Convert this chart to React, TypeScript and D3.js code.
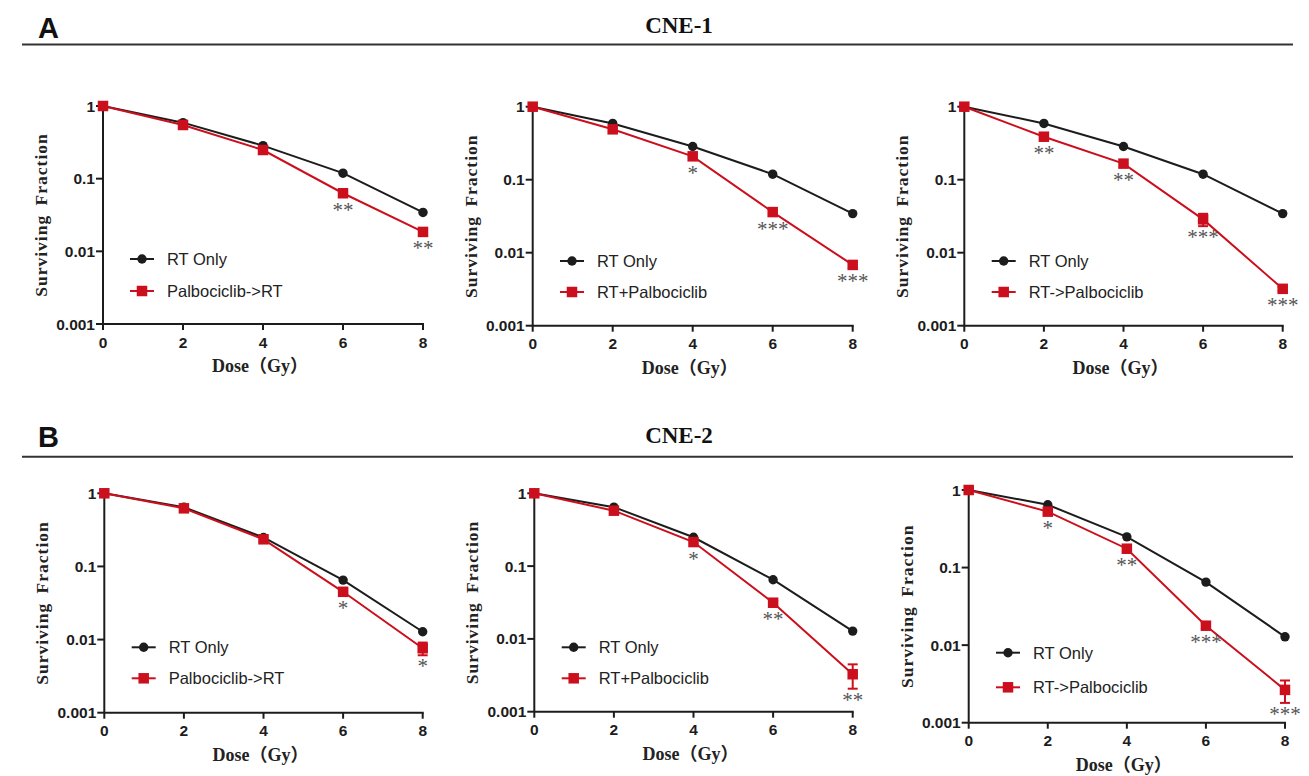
import React from "react";
import * as d3 from "d3";

// ---------------- DATA ----------------
const doses = [0, 2, 4, 6, 8];
const yTicks = [1, 0.1, 0.01, 0.001];
const yTickLabels = ["1", "0.1", "0.01", "0.001"];

const rtOnlyCNE1 = [1, 0.59, 0.285, 0.119, 0.0343];
const rtOnlyCNE2 = [1, 0.645, 0.249, 0.065, 0.0128];

const palboThenRtCNE1 = [1, 0.548, 0.248, 0.063, 0.0185];
const rtPlusPalboCNE1 = [1, 0.49, 0.209, 0.036, 0.0068];
const rtThenPalboCNE1 = [1, 0.388, 0.166, 0.0286, 0.0032];
const palboThenRtCNE2 = [1, 0.623, 0.235, 0.045, 0.0076];
const rtPlusPalboCNE2 = [1, 0.577, 0.214, 0.0314, 0.00327];
const rtThenPalboCNE2 = [1, 0.526, 0.175, 0.0178, 0.00265];

const errZero = [0, 0, 0, 0, 0];
const errRtThenPalboCNE1 = [0, 0, 0, 0.0055, 0.0002];
const errPalboThenRtCNE2 = [0, 0, 0, 0.002, 0.0015];
const errRtPlusPalboCNE2 = [0, 0, 0, 0.002, 0.0012];
const errRtThenPalboCNE2 = [0, 0, 0, 0.0015, 0.00085];

const starsA1 = ["", "", "", "**", "**"];
const starsA2 = ["", "", "*", "***", "***"];
const starsA3 = ["", "**", "**", "***", "***"];
const starsB1 = ["", "", "", "*", "*"];
const starsB2 = ["", "", "*", "**", "**"];
const starsB3 = ["", "*", "**", "***", "***"];

const controlLabel = "RT Only";
const treatLabels = ["Palbociclib->RT", "RT+Palbociclib", "RT->Palbociclib"];
const cellLines = ["CNE-1", "CNE-2"];
const sectionLetters = ["A", "B"];

// ---------------- LAYOUT ----------------
const RED = "#cc0f1c";
const BLACK = "#1c1c1c";

type Panel = {
  left: number; right: number; top: number; bottom: number;
  legX: number; legY: number; legGap: number;
  control: number[]; treat: number[]; err: number[]; stars: string[]; label: string;
};

const panels: Panel[] = [
  { left: 103, right: 423, top: 106, bottom: 324, legX: 130, legY: 259, legGap: 32,
    control: rtOnlyCNE1, treat: palboThenRtCNE1, err: errZero, stars: starsA1, label: treatLabels[0] },
  { left: 532.7, right: 852.7, top: 106.7, bottom: 325.7, legX: 560, legY: 261, legGap: 31,
    control: rtOnlyCNE1, treat: rtPlusPalboCNE1, err: errZero, stars: starsA2, label: treatLabels[1] },
  { left: 964.3, right: 1282.7, top: 106.7, bottom: 325.7, legX: 991.7, legY: 261, legGap: 31,
    control: rtOnlyCNE1, treat: rtThenPalboCNE1, err: errRtThenPalboCNE1, stars: starsA3, label: treatLabels[2] },
  { left: 104.3, right: 422.7, top: 493.3, bottom: 712.7, legX: 131.7, legY: 647.3, legGap: 31,
    control: rtOnlyCNE2, treat: palboThenRtCNE2, err: errPalboThenRtCNE2, stars: starsB1, label: treatLabels[0] },
  { left: 534.3, right: 852.7, top: 493.3, bottom: 711.7, legX: 561.7, legY: 647.3, legGap: 31,
    control: rtOnlyCNE2, treat: rtPlusPalboCNE2, err: errRtPlusPalboCNE2, stars: starsB2, label: treatLabels[1] },
  { left: 968.7, right: 1285, top: 490, bottom: 722.7, legX: 996, legY: 652.7, legGap: 34.6,
    control: rtOnlyCNE2, treat: rtThenPalboCNE2, err: errRtThenPalboCNE2, stars: starsB3, label: treatLabels[2] },
];

const sansFont = "'Liberation Sans', Arial, sans-serif";
const serifFont = "'Liberation Serif', 'Noto Sans CJK SC', serif";

function PanelChart({ p }: { p: Panel }) {
  const x = d3.scaleLinear().domain([0, 8]).range([p.left, p.right]);
  const y = d3.scaleLog().domain([0.001, 1]).range([p.bottom, p.top]);
  const line = d3.line<number>().x((_, i) => x(doses[i])).y((v) => y(v));
  const sq = 10.5;
  const r = 4.7;
  const midX = (p.left + p.right) / 2;
  const midY = (p.top + p.bottom) / 2;
  return (
    <g>
      {/* axes */}
      <line x1={p.left} x2={p.left} y1={p.top - 1} y2={p.bottom} stroke={BLACK} strokeWidth={2} />
      <line x1={p.left} x2={p.right + 1} y1={p.bottom} y2={p.bottom} stroke={BLACK} strokeWidth={2} />
      {yTicks.map((t, i) => (
        <g key={"y" + i}>
          <line x1={p.left - 7} x2={p.left} y1={y(t)} y2={y(t)} stroke={BLACK} strokeWidth={2} />
          <text x={p.left - 8} y={y(t)} dy="0.36em" textAnchor="end" fontFamily={sansFont}
            fontWeight="bold" fontSize={15.5} fill={BLACK}>{yTickLabels[i]}</text>
        </g>
      ))}
      {doses.map((d, i) => (
        <g key={"x" + i}>
          <line x1={x(d)} x2={x(d)} y1={p.bottom} y2={p.bottom + 6} stroke={BLACK} strokeWidth={2} />
          <text x={x(d)} y={p.bottom + 23.5} textAnchor="middle" fontFamily={sansFont}
            fontWeight="bold" fontSize={15.5} fill={BLACK}>{d}</text>
        </g>
      ))}
      {/* axis titles */}
      <text transform={`translate(${p.left - 56},${midY}) rotate(-90)`} textAnchor="middle"
        fontFamily={serifFont} fontWeight="bold" fontSize={17.5} letterSpacing={1} wordSpacing={4}
        fill="#222">Surviving Fraction</text>
      <text x={midX - 3} y={p.bottom + 48} textAnchor="middle" fontFamily={serifFont}
        fontWeight="bold" fontSize={18} fill="#222">Dose（Gy）</text>
      {/* control series */}
      <path d={line(p.control) || ""} fill="none" stroke={BLACK} strokeWidth={2} />
      {p.control.map((v, i) => (
        <circle key={"c" + i} cx={x(doses[i])} cy={y(v)} r={r} fill={BLACK} />
      ))}
      {/* treatment series */}
      <path d={line(p.treat) || ""} fill="none" stroke={RED} strokeWidth={2} />
      {p.treat.map((v, i) => {
        const e = p.err[i];
        if (!e) return null;
        const cx = x(doses[i]);
        const y1 = y(v + e);
        const y2 = y(v - e);
        return (
          <g key={"e" + i} stroke={RED} strokeWidth={2}>
            <line x1={cx} x2={cx} y1={y1} y2={y2} />
            <line x1={cx - 5} x2={cx + 5} y1={y1} y2={y1} />
            <line x1={cx - 5} x2={cx + 5} y1={y2} y2={y2} />
          </g>
        );
      })}
      {p.treat.map((v, i) => (
        <rect key={"s" + i} x={x(doses[i]) - sq / 2} y={y(v) - sq / 2} width={sq} height={sq} fill={RED} />
      ))}
      {/* significance */}
      {p.stars.map((s, i) => {
        if (!s) return null;
        const v = p.treat[i];
        const e = p.err[i];
        const base = Math.max(y(v) + 5.5, e ? y(v - e) : 0);
        return (
          <text key={"st" + i} x={x(doses[i])} y={base + 18} textAnchor="middle"
            fontFamily={serifFont} fontSize={21} fill="#555">{s}</text>
        );
      })}
      {/* legend */}
      <line x1={p.legX} x2={p.legX + 24} y1={p.legY} y2={p.legY} stroke={BLACK} strokeWidth={2} />
      <circle cx={p.legX + 12} cy={p.legY} r={r} fill={BLACK} />
      <text x={p.legX + 37} y={p.legY} dy="0.36em" fontFamily={sansFont} fontSize={16.5} fill="#222">{controlLabel}</text>
      <line x1={p.legX} x2={p.legX + 24} y1={p.legY + p.legGap} y2={p.legY + p.legGap} stroke={RED} strokeWidth={2} />
      <rect x={p.legX + 12 - sq / 2} y={p.legY + p.legGap - sq / 2} width={sq} height={sq} fill={RED} />
      <text x={p.legX + 37} y={p.legY + p.legGap} dy="0.36em" fontFamily={sansFont} fontSize={16.5} fill="#222">{p.label}</text>
    </g>
  );
}

const headerLineY = [44.5, 456.7];
const headerLetterY = [37.7, 447.3];
const headerTitleY = [33.3, 443.3];

export default function App() {
  return (
    <svg width={1309} height={776} style={{ position: "absolute", left: 0, top: 0, background: "#fff" }}>
      <rect x={0} y={0} width={1309} height={776} fill="#fff" />
      {sectionLetters.map((l, i) => (
        <g key={l}>
          <text x={38} y={headerLetterY[i]} fontFamily={sansFont} fontWeight="bold" fontSize={29} fill="#111">{l}</text>
          <text x={679} y={headerTitleY[i]} textAnchor="middle" fontFamily={serifFont} fontWeight="bold"
            fontSize={23} fill="#111">{cellLines[i]}</text>
          <line x1={22} x2={1293} y1={headerLineY[i]} y2={headerLineY[i]} stroke="#333" strokeWidth={2} />
        </g>
      ))}
      {panels.map((p, i) => (
        <PanelChart key={i} p={p} />
      ))}
    </svg>
  );
}
